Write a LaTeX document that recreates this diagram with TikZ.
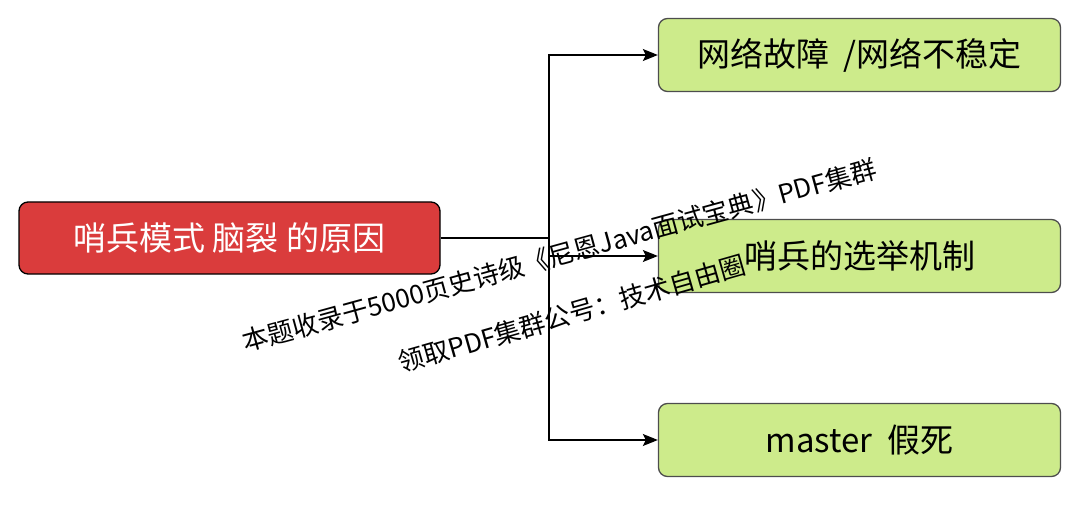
\documentclass[tikz,border=0pt]{standalone}
\usepackage{fontspec}
\setmainfont{Noto Sans CJK SC}
\usetikzlibrary{arrows.meta}
\definecolor{redfill}{HTML}{DA3C3C}
\definecolor{greenfill}{HTML}{CDEB8B}
\definecolor{greenline}{HTML}{4D4D4D}
\begin{document}
\begin{tikzpicture}[x=1pt,y=-1pt,
  causebox/.style={draw=black,line width=1.3pt,fill=redfill,rounded corners=9pt,
    minimum width=421pt,minimum height=72pt,inner sep=0pt,text=white,
    font=\fontsize{33}{38}\selectfont},
  reasonbox/.style={draw=greenline,line width=1.3pt,fill=greenfill,rounded corners=9pt,
    minimum width=402pt,minimum height=73pt,inner sep=0pt,text=black,
    font=\fontsize{33}{38}\selectfont},
  link/.style={draw=black,line width=1.3pt,-{Stealth[length=15pt,width=12pt,inset=3pt]}},
  wmtext/.style={text=black,font=\fontsize{26}{30}\selectfont,inner sep=0pt}]
\useasboundingbox (0,0) rectangle (1080,532);
\node[causebox] (cause) at (229.5,238) {哨兵模式 脑裂 的原因};
\node[reasonbox] (net) at (859.5,55) {网络故障\ \ /网络不稳定};
\node[reasonbox] (elect) at (859.5,256) {哨兵的选举机制};
\node[reasonbox] (dead) at (859.5,440) {master\ \ 假死};
\coordinate (split) at (549,238);
\draw[line width=1.3pt] (cause.east) -- (split);
\draw[link] (split) |- (net.west);
\draw[link] (split) |- (elect.west);
\draw[link] (split) |- (dead.west);
\node[wmtext,anchor=base west,rotate=15.4] (wm1) at (245,352) {本题收录于5000页史诗级《尼恩Java面试宝典》PDF集群};
\node[wmtext,anchor=base west,rotate=16] (wm2) at (401,373) {领取PDF集群公号：技术自由圈};
\end{tikzpicture}
\end{document}
